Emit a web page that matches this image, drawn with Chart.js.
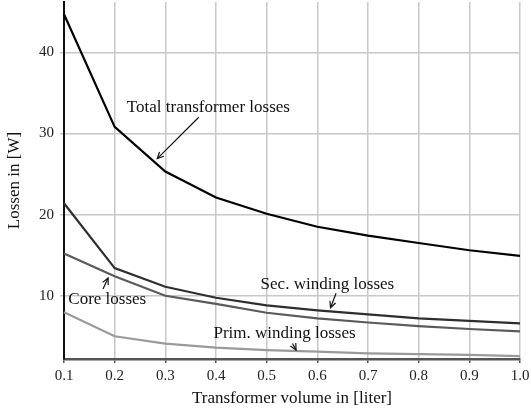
<!DOCTYPE html>
<html>
<head>
<meta charset="utf-8">
<script src="https://cdn.jsdelivr.net/npm/chart.js@4"></script>
<style>
html,body{margin:0;padding:0;background:#fff;}
canvas{display:block;}
</style>
</head>
<body>
<canvas id="c" width="531" height="413"></canvas>
<script>
// ---- data ----
const volumes = ['0.1','0.2','0.3','0.4','0.5','0.6','0.7','0.8','0.9','1.0'];
const totalLosses = [44.7, 30.8, 25.3, 22.1, 20.1, 18.5, 17.4, 16.5, 15.6, 14.9];
const secWindingLosses = [21.4, 13.4, 11.1, 9.75, 8.8, 8.2, 7.7, 7.2, 6.9, 6.6];
const coreLosses = [15.2, 12.4, 10.0, 9.0, 7.9, 7.2, 6.7, 6.25, 5.9, 5.6];
const primWindingLosses = [7.95, 5.0, 4.1, 3.6, 3.3, 3.1, 2.9, 2.8, 2.7, 2.55];
const yTicks = [10, 20, 30, 40];

// annotation texts with anchor (category index, value) and arrows
const annotations = [
  {text:'Total transformer losses', x:1.24, y:33.2, ax0:2.66, ay0:32.0, ax1:1.84, ay1:26.9},
  {text:'Core losses', x:0.085, y:9.47, ax0:0.77, ay0:10.83, ax1:0.87, ay1:12.19},
  {text:'Sec. winding losses', x:3.88, y:11.41, ax0:5.37, ay0:10.30, ax1:5.26, ay1:8.52},
  {text:'Prim. winding losses', x:2.95, y:5.35, ax0:4.51, ay0:4.12, ax1:4.58, ay1:3.3}
];

const FONT = '"Liberation Serif", "Times New Roman", serif';

const annotPlugin = {
  id: 'annot',
  afterDatasetsDraw(chart) {
    const ctx = chart.ctx;
    const xs = chart.scales.x, ys = chart.scales.y;
    ctx.save();
    ctx.font = '17px ' + FONT;
    ctx.fillStyle = '#111';
    ctx.textBaseline = 'middle';
    ctx.textAlign = 'left';
    annotations.forEach(a => {
      ctx.fillText(a.text, xs.getPixelForValue(a.x), ys.getPixelForValue(a.y));
      const x0 = xs.getPixelForValue(a.ax0), y0 = ys.getPixelForValue(a.ay0);
      const x1 = xs.getPixelForValue(a.ax1), y1 = ys.getPixelForValue(a.ay1);
      ctx.strokeStyle = '#111';
      ctx.lineWidth = 1.2;
      ctx.beginPath(); ctx.moveTo(x0, y0); ctx.lineTo(x1, y1); ctx.stroke();
      const ang = Math.atan2(y1 - y0, x1 - x0);
      const L = 7, w = 0.45;
      ctx.beginPath();
      ctx.moveTo(x1 - L*Math.cos(ang - w), y1 - L*Math.sin(ang - w));
      ctx.lineTo(x1, y1);
      ctx.lineTo(x1 - L*Math.cos(ang + w), y1 - L*Math.sin(ang + w));
      ctx.stroke();
    });
    ctx.restore();
  }
};

const mk = (label, data, color, w) => ({
  label, data, borderColor: color, backgroundColor: color, borderWidth: w,
  pointRadius: 0, tension: 0, fill: false
});

new Chart(document.getElementById('c'), {
  type: 'line',
  data: {
    labels: volumes,
    datasets: [
      mk('Total transformer losses', totalLosses, '#000000', 2.2),
      mk('Sec. winding losses', secWindingLosses, '#2e2e2e', 2.2),
      mk('Core losses', coreLosses, '#5a5a5a', 2.2),
      mk('Prim. winding losses', primWindingLosses, '#9a9a9a', 2.2)
    ]
  },
  options: {
    responsive: false,
    devicePixelRatio: 1,
    animation: false,
    layout: {padding: {left: 4, right: 11, top: 2, bottom: 4}},
    plugins: {legend: {display: false}, tooltip: {enabled: false}},
    scales: {
      x: {
        type: 'category',
        offset: false,
        grid: {color: '#c8c8c8', lineWidth: 1.5, tickLength: 4, tickColor: '#555'},
        border: {color: '#555', width: 2.5},
        ticks: {color: '#222', font: {family: FONT, size: 15}, padding: 4, maxRotation: 0, autoSkip: false},
        title: {display: true, text: 'Transformer volume in [liter]', color: '#111',
                font: {family: FONT, size: 17}, padding: {top: 2, bottom: 0}},
        afterFit(s) { s.height = 413 - 359 - 4; s.paddingLeft = 0; s.paddingRight = 0; }
      },
      y: {
        type: 'linear',
        min: 2.2, max: 46.2,
        afterBuildTicks(s) { s.ticks = yTicks.map(v => ({value: v})); },
        grid: {color: '#c8c8c8', lineWidth: 1.5, tickLength: 4, tickColor: '#c8c8c8'},
        border: {color: '#111', width: 2},
        ticks: {color: '#222', font: {family: FONT, size: 15}, padding: 6},
        title: {display: true, text: 'Lossen in [W]', color: '#111',
                font: {family: FONT, size: 17}, padding: {top: 0, bottom: 0}},
        afterFit(s) { s.width = 64 - 4; s.paddingTop = 0; s.paddingBottom = 0; }
      }
    }
  },
  plugins: [annotPlugin]
});
</script>
</body>
</html>
